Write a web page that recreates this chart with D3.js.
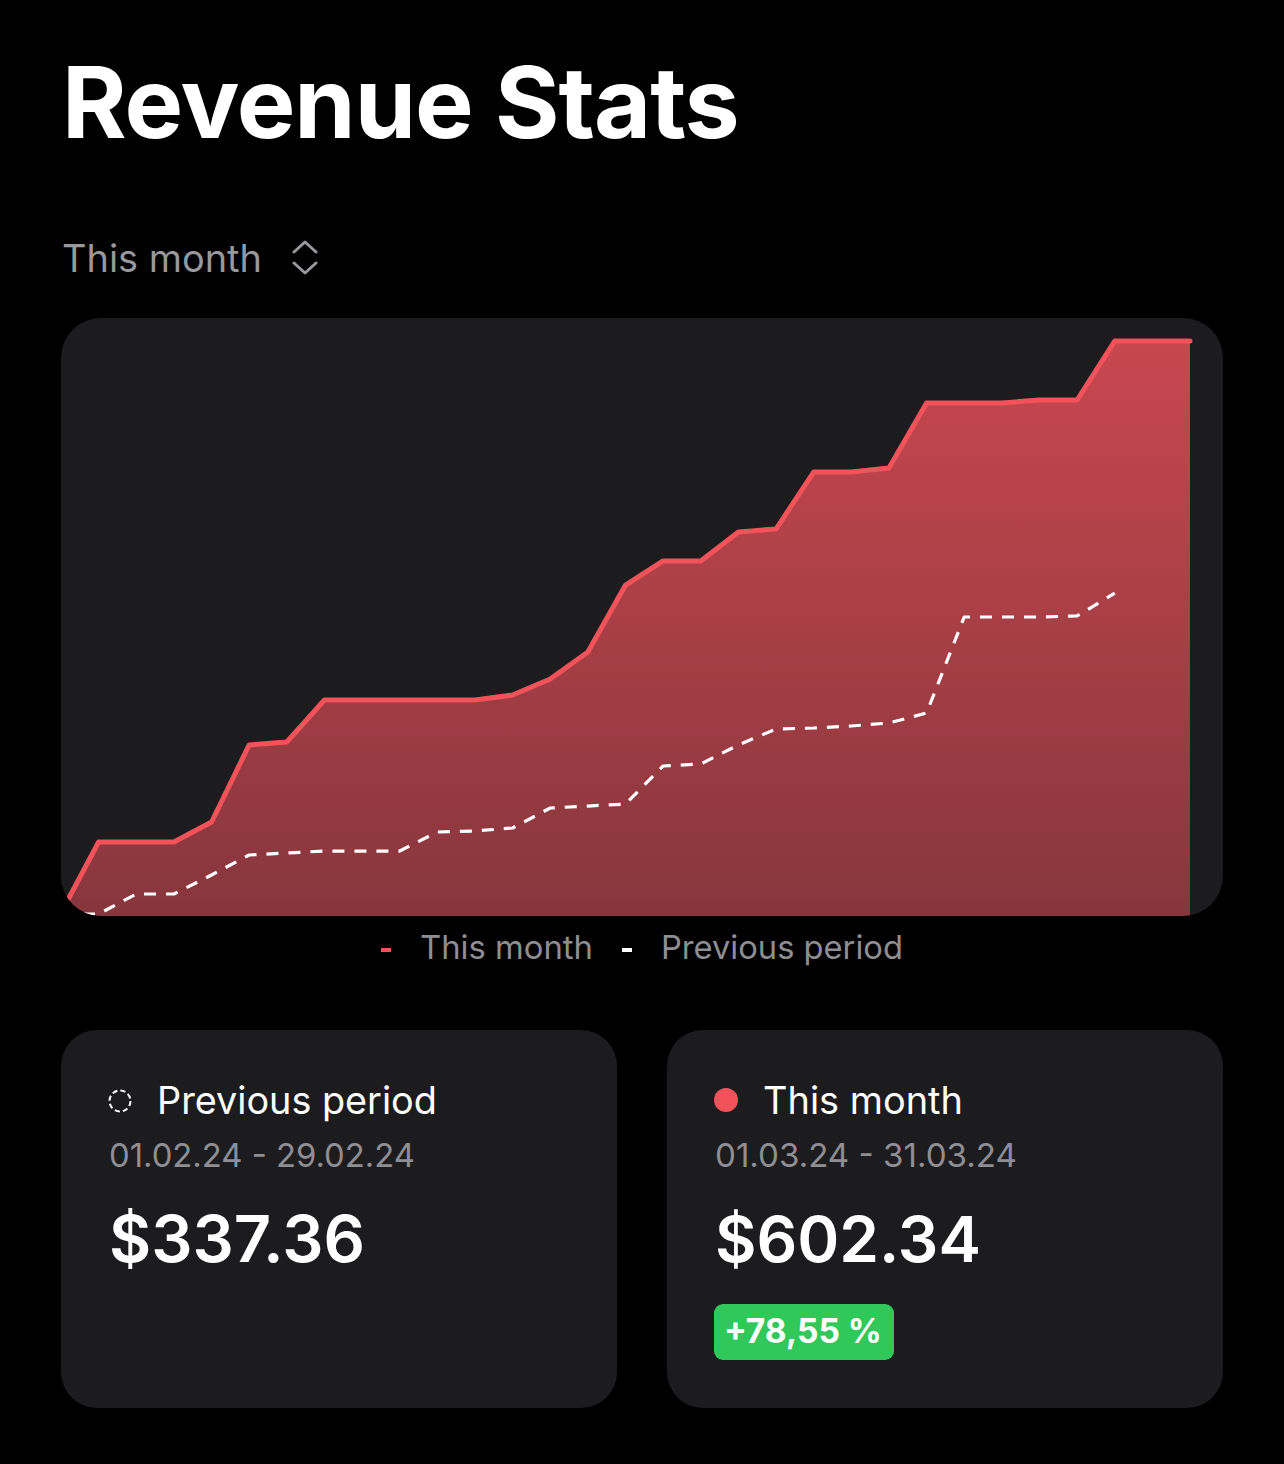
<!DOCTYPE html>
<html>
<head>
<meta charset="utf-8">
<script src="https://cdn.jsdelivr.net/npm/d3@7"></script>
<style>
  html, body { margin: 0; padding: 0; background: #000; }
  svg { display: block; }
  text { font-family: Inter, "Noto Sans", sans-serif; }
</style>
</head>
<body>
<svg id="chart" width="1284" height="1464"></svg>
<script>
// ---- data ----
const days = d3.range(0, 31);                 // day index of this month (1..31 -> 0..30)
const thisMonth = [1.2, 75.7, 75.7, 75.7, 96.7, 177.7, 180.8, 225.0, 225.0, 225.0,
  225.0, 225.0, 230.2, 247.0, 275.4, 345.8, 371.1, 371.1, 401.6, 404.7,
  464.6, 464.6, 468.8, 537.2, 537.2, 537.2, 540.3, 540.3, 602.34, 602.34, 602.34];
const previousPeriod = [0, 0, 21.0, 21.0, 41.0, 62.0, 64.1, 66.2, 66.2, 66.2,
  86.2, 87.3, 90.4, 111.4, 113.5, 115.6, 155.6, 157.7, 177.7, 194.5,
  195.5, 197.6, 200.8, 211.3, 312.2, 312.2, 312.2, 313.3, 337.36];
const legendLabels = ["This month", "Previous period"];
const cards = [
  { title: "Previous period", range: "01.02.24 - 29.02.24", total: "$337.36" },
  { title: "This month", range: "01.03.24 - 31.03.24", total: "$602.34", change: "+78,55 %" }
];

const svg = d3.select("#chart");
const defs = svg.append("defs");

function fitText(sel, targetW) {
  const fs = parseFloat(sel.attr("font-size"));
  const w = sel.node().getComputedTextLength();
  sel.attr("font-size", fs * targetW / w);
}

// ---- title ----
const title = svg.append("text").attr("x", 62).attr("y", 138)
  .attr("font-size", 100).attr("font-weight", 700).attr("fill", "#fff")
  .attr("letter-spacing", -1).text("Revenue Stats");
fitText(title, 677);

// ---- period selector ----
const sel = svg.append("text").attr("x", 62).attr("y", 272)
  .attr("font-size", 40).attr("fill", "#98989d").text("This month");
fitText(sel, 200);
svg.append("path").attr("d", "M294,252 L305,242 L316,252 M294,263 L305,273 L316,263")
  .attr("fill", "none").attr("stroke", "#98989d").attr("stroke-width", 3)
  .attr("stroke-linecap", "round").attr("stroke-linejoin", "round");

// ---- chart panel ----
const panel = { x: 61, y: 318, w: 1162, h: 598, r: 40 };
svg.append("rect").attr("x", panel.x).attr("y", panel.y).attr("width", panel.w)
  .attr("height", panel.h).attr("rx", panel.r).attr("fill", "#1c1c1e");
defs.append("clipPath").attr("id", "panelClip").append("rect")
  .attr("x", panel.x).attr("y", panel.y).attr("width", panel.w)
  .attr("height", panel.h).attr("rx", panel.r);

const x = d3.scaleLinear().domain([0, 30]).range([61, 1190]);
const y = d3.scaleLinear().domain([0, 602.34]).range([914, 341]);

const grad = defs.append("linearGradient").attr("id", "areaGrad")
  .attr("gradientUnits", "userSpaceOnUse")
  .attr("x1", 0).attr("x2", 0).attr("y1", y(602.34)).attr("y2", panel.y + panel.h);
grad.append("stop").attr("offset", 0).attr("stop-color", "#c9474f");
grad.append("stop").attr("offset", 1).attr("stop-color", "#87363d");

const g = svg.append("g").attr("clip-path", "url(#panelClip)");

const area = d3.area().x((d, i) => x(i)).y0(panel.y + panel.h).y1(d => y(d));
g.append("path").datum(thisMonth).attr("d", area).attr("fill", "url(#areaGrad)");

const line = d3.line().x((d, i) => x(i)).y(d => y(d));
g.append("path").datum(previousPeriod).attr("d", line).attr("fill", "none")
  .attr("stroke", "#fff").attr("stroke-width", 3.2).attr("stroke-dasharray", "12,10")
  .attr("stroke-linejoin", "round");
g.append("path").datum(thisMonth).attr("d", line).attr("fill", "none")
  .attr("stroke", "#f2535a").attr("stroke-width", 5)
  .attr("stroke-linejoin", "round").attr("stroke-linecap", "round");

// ---- legend ----
const legend = svg.append("g");
const lg1 = legend.append("g");
lg1.append("rect").attr("x", 381).attr("y", 948).attr("width", 10).attr("height", 4).attr("fill", "#f2535a");
const lt1 = lg1.append("text").attr("x", 420).attr("y", 959).attr("font-size", 32)
  .attr("fill", "#8e8e93").text(legendLabels[0]);
fitText(lt1, 173);
const lg2 = legend.append("g");
lg2.append("rect").attr("x", 622).attr("y", 948).attr("width", 10).attr("height", 4).attr("fill", "#fff");
const lt2 = lg2.append("text").attr("x", 661).attr("y", 959).attr("font-size", 32)
  .attr("fill", "#8e8e93").text(legendLabels[1]);
fitText(lt2, 242);

// ---- cards ----
const cardX = [61, 667];
const titleW = [280, 200], rangeW = [306, 302], totalW = [256, 266];
cards.forEach((c, i) => {
  const cx = cardX[i];
  const cg = svg.append("g");
  cg.append("rect").attr("x", cx).attr("y", 1030).attr("width", 556).attr("height", 378)
    .attr("rx", 36).attr("fill", "#1c1c1e");
  if (i === 0) {
    cg.append("circle").attr("cx", cx + 59).attr("cy", 1101).attr("r", 10.5)
      .attr("fill", "none").attr("stroke", "#fff").attr("stroke-width", 2)
      .attr("stroke-dasharray", "5.2,3.05");
  } else {
    cg.append("circle").attr("cx", cx + 59).attr("cy", 1100).attr("r", 12)
      .attr("fill", "#f2535a");
  }
  const t = cg.append("text").attr("x", cx + 96).attr("y", 1114).attr("font-size", 38)
    .attr("fill", "#fff").text(c.title);
  fitText(t, titleW[i]);
  const r = cg.append("text").attr("x", cx + 48).attr("y", 1167).attr("font-size", 34)
    .attr("fill", "#8e8e93").text(c.range);
  fitText(r, rangeW[i]);
  const v = cg.append("text").attr("x", cx + 48).attr("y", 1262).attr("font-size", 64)
    .attr("font-weight", 600).attr("fill", "#fff").text(c.total);
  fitText(v, totalW[i]);
  if (c.change) {
    cg.append("rect").attr("x", cx + 47).attr("y", 1304).attr("width", 180).attr("height", 56)
      .attr("rx", 9).attr("fill", "#30c859");
    const b = cg.append("text").attr("x", cx + 57).attr("y", 1343).attr("font-size", 32)
      .attr("font-weight", 700).attr("fill", "#fff").text(c.change);
    fitText(b, 158);
  }
});
</script>
</body>
</html>
